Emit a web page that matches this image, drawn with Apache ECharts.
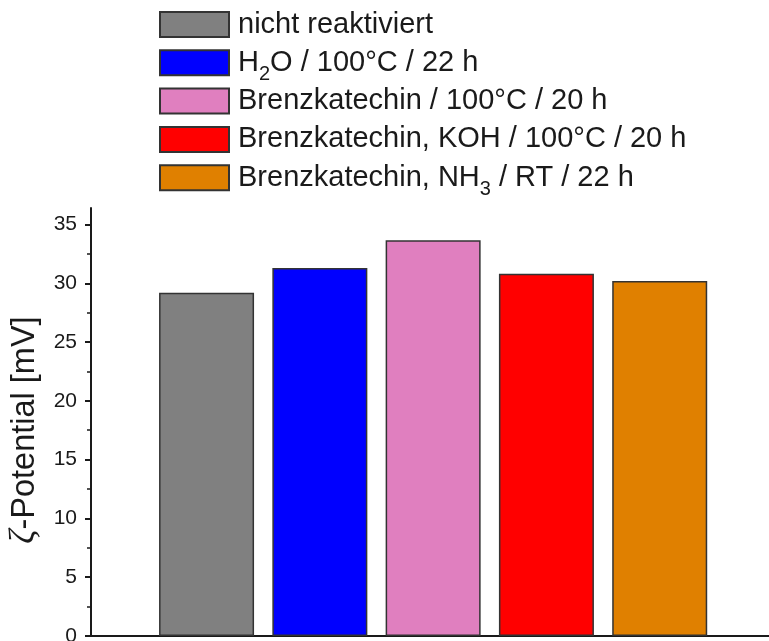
<!DOCTYPE html>
<html>
<head>
<meta charset="utf-8">
<style>
  html, body { margin: 0; padding: 0; background: #fff; }
  #chart { width: 769px; height: 641px; }
</style>
<script src="https://cdn.jsdelivr.net/npm/echarts@6/dist/echarts.min.js"></script>
</head>
<body>
<div id="chart"></div>
<script>
// Sample treatments (legend entries, left to right)
var categories = [
  'nicht reaktiviert',
  'H2O / 100°C / 22 h',
  'Brenzkatechin / 100°C / 20 h',
  'Brenzkatechin, KOH / 100°C / 20 h',
  'Brenzkatechin, NH3 / RT / 22 h'
];
// Zeta potential in mV
var zetaValues = [29.2, 31.3, 33.65, 30.8, 30.2];
var barColors = ['#808080', '#0000ff', '#e07fbf', '#ff0000', '#e08000'];
var majorTicks = [0, 5, 10, 15, 20, 25, 30, 35];
var minorTicks = [2.5, 7.5, 12.5, 17.5, 22.5, 27.5, 32.5];

var FONT = '"Liberation Sans", Arial, sans-serif';
var INK = '#1a1a1a';

var chart = echarts.init(document.getElementById('chart'), null, { renderer: 'canvas' });

var series = categories.map(function (name, i) {
  return {
    type: 'bar',
    name: name,
    yAxisIndex: 0,
    barWidth: 95,
    barGap: '-100%',
    data: [[i + 1, zetaValues[i]]],
    itemStyle: { color: barColors[i], borderColor: '#333', borderWidth: 1.5 }
  };
});

chart.setOption({
  backgroundColor: '#fff',
  animation: false,
  textStyle: { fontFamily: FONT },
  grid: {
    left: 91, right: -4, top: 208, bottom: 5,
    containLabel: false,
    outerBoundsMode: 'none'
  },
  legend: {
    orient: 'vertical',
    left: 159,
    top: 2.5,
    padding: 0,
    icon: 'rect',
    itemWidth: 69,
    itemHeight: 25,
    itemGap: -5.7,
    data: categories,
    formatter: function (name) {
      return name.replace('H2O', 'H{sub|2}O').replace('NH3', 'NH{sub|3}');
    },
    textStyle: {
      fontFamily: FONT,
      fontSize: 29,
      color: INK,
      lineHeight: 44,
      padding: [0, 0, 0, 4],
      rich: {
        sub: { fontFamily: FONT, fontSize: 20, color: INK, lineHeight: 10, verticalAlign: 'bottom' }
      }
    }
  },
  xAxis: {
    type: 'value',
    min: -0.02,
    max: 6,
    axisLine: { show: true, onZero: false, lineStyle: { color: INK, width: 2 } },
    axisTick: { show: false },
    axisLabel: { show: false },
    splitLine: { show: false }
  },
  yAxis: [
    {
      type: 'value',
      min: 0,
      max: 36.4,
      interval: 5,
      name: '{z|\u03B6}-Potential [mV]',
      nameLocation: 'middle',
      nameGap: 47,
      nameTextStyle: {
        fontFamily: FONT, fontSize: 32.5, color: INK,
        padding: [0, 16, 0, 0],
        rich: { z: { fontFamily: '"Liberation Serif", serif', fontStyle: 'italic', fontSize: 35, color: INK } }
      },
      axisLine: { show: true, onZero: false, lineStyle: { color: INK, width: 2 } },
      axisTick: { show: true, customValues: majorTicks, length: 6, lineStyle: { color: INK, width: 2 } },
      axisLabel: { customValues: majorTicks, fontFamily: FONT, fontSize: 21, color: INK, margin: 14 },
      splitLine: { show: false }
    },
    {
      type: 'value',
      min: 0,
      max: 36.4,
      interval: 5,
      position: 'left',
      axisLine: { show: false, onZero: false },
      axisTick: { show: true, customValues: minorTicks, length: 4, lineStyle: { color: INK, width: 1.5 } },
      axisLabel: { show: false },
      splitLine: { show: false }
    }
  ],
  series: series
});
</script>
</body>
</html>
